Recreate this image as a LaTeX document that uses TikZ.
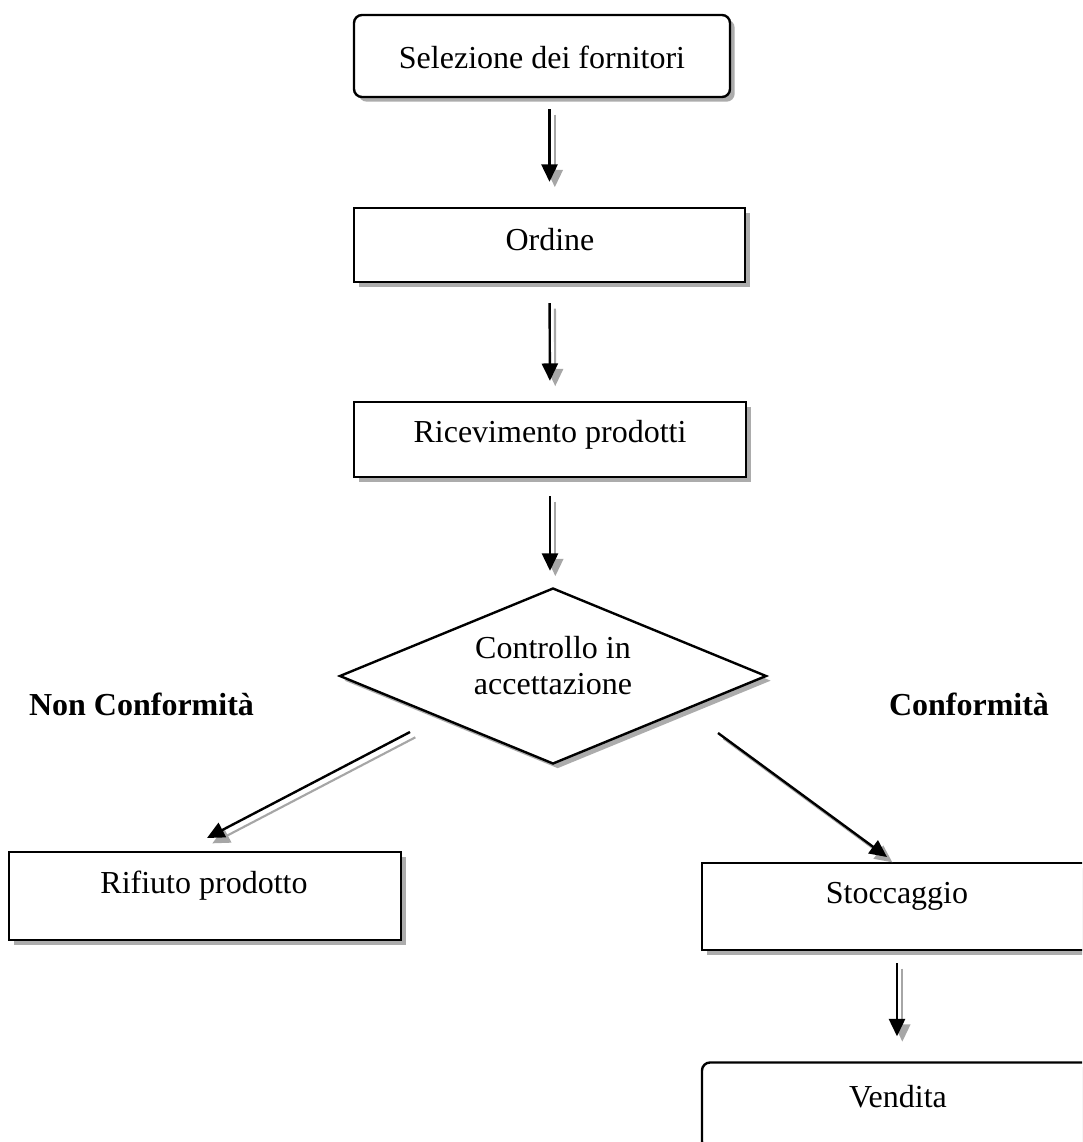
\documentclass[tikz,border=0pt]{standalone}
\usepackage{fontspec}
\setmainfont{Liberation Serif}
\usetikzlibrary{shapes.geometric,shadows,arrows.meta}

\begin{document}
\begin{tikzpicture}[x=0.75pt, y=-0.75pt,
  box/.style={draw, line width=1.8pt, fill=white, inner sep=0pt,
    drop shadow={shadow xshift=3.5pt, shadow yshift=-3.5pt, fill=gray!65, opacity=1}},
  txt/.style={font=\fontsize{24}{27}\selectfont, anchor=base, inner sep=0pt},
  flow/.style={line width=1.8pt, -{Triangle[length=13pt, width=12pt]},
    preaction={draw=gray!70, line width=1.6pt, transform canvas={shift={(4pt,-4pt)}}}}]
  \useasboundingbox (0,0) rectangle (1082,1142);
  \clip (0,0) rectangle (1082,1142);

  % boxes
  \node[box, rounded corners=6pt, minimum width=282pt, minimum height=61.5pt] (sel) at (542,56) {};
  \node[box, minimum width=293.25pt, minimum height=55.5pt] (ord) at (549.5,245) {};
  \node[box, minimum width=294pt, minimum height=56.25pt] (ric) at (550,439.5) {};
  \node[box, diamond, aspect=2.43, minimum width=320.25pt, minimum height=132pt] (chk) at (553,676) {};
  \node[box, minimum width=294pt, minimum height=66pt] (rif) at (205,896) {};
  \node[box, minimum width=292.5pt, minimum height=65.25pt] (sto) at (897,906.5) {};
  \node[box, rounded corners=6pt, minimum width=292.5pt, minimum height=65.25pt] (ven) at (897,1106) {};

  % texts
  \node[txt] (selt) at (542,68) {Selezione dei fornitori};
  \node[txt] (ordt) at (550,250) {Ordine};
  \node[txt] (rict) at (550,442) {Ricevimento prodotti};
  \node[txt, anchor=center, align=center] (chkt) at (553,666) {Controllo in\\accettazione};
  \node[txt] (rift) at (204,893) {Rifiuto prodotto};
  \node[txt] (stot) at (897,903) {Stoccaggio};
  \node[txt] (vent) at (898,1107) {Vendita};
  \node[txt, font=\fontsize{24}{27}\selectfont\bfseries] (nonc) at (141.5,715) {Non Conformità};
  \node[txt, font=\fontsize{24}{27}\selectfont\bfseries] (conf) at (969,715) {Conformità};

  % connectors
  \coordinate (ncs) at (410,732);
  \coordinate (nce) at (207,838);
  \coordinate (cs) at (718,733);
  \coordinate (ce) at (887,857);
  \draw[flow, shorten <=8.25pt, shorten >=18.75pt] (sel.south -| ord.north) -- (ord.north);
  \draw[flow, shorten <=15pt, shorten >=15pt] (ord.south) -- (ric.north);
  \draw[flow, shorten <=13.5pt, shorten >=12pt] (ric.south) -- (ric.south |- chk.north);
  \draw[flow] (ncs) -- (nce);
  \draw[flow] (cs) -- (ce);
  \draw[flow, shorten <=9pt, shorten >=18.75pt] (sto.south) -- (ven.north);
\end{tikzpicture}
\end{document}
